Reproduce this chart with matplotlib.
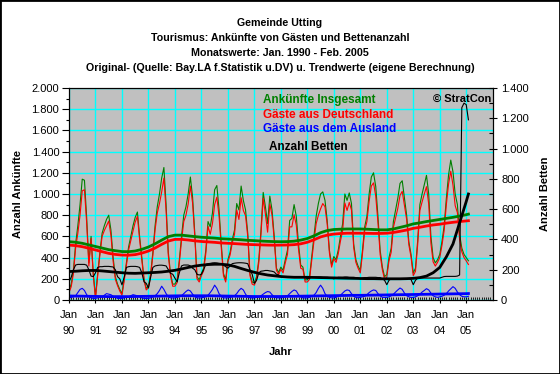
import numpy as np
import matplotlib
matplotlib.use('Agg')
import matplotlib.pyplot as plt
from matplotlib.ticker import MultipleLocator, FuncFormatter
from matplotlib.patches import Rectangle

plt.rcParams['font.family'] = ['Liberation Sans', 'DejaVu Sans']

# Monatswerte Jan 1990 - Feb 2005
ankuenfte_gesamt = [
    90, 150, 280, 530, 700, 900, 1140, 1130, 780, 350, 600, 250,
    30, 250, 450, 630, 700, 760, 800, 660, 400, 220, 150, 100,
    60, 200, 350, 500, 600, 700, 780, 830, 600, 400, 200, 110,
    130, 250, 450, 700, 880, 1000, 1150, 1250, 900, 450, 250, 150,
    150, 190, 380, 600, 800, 880, 1000, 1160, 970, 630, 220, 190,
    250, 300, 470, 740, 690, 820, 1040, 1080, 850, 530, 250, 190,
    380, 450, 570, 660, 910, 850, 1075, 940, 850, 630, 250, 170,
    160, 220, 380, 660, 1015, 880, 720, 980, 850, 600, 300, 260,
    310, 280, 380, 470, 750, 770, 900, 790, 530, 330, 310, 190,
    190, 220, 410, 600, 790, 910, 1000, 1020, 940, 750, 470, 330,
    410, 380, 470, 600, 720, 1000, 940, 1010, 910, 530, 380, 320,
    280, 470, 690, 790, 1000, 1160, 1200, 1070, 790, 470, 310, 220,
    240, 400, 490, 740, 850, 960, 1100, 1125, 960, 800, 550, 430,
    255, 300, 560, 900, 1000, 1090, 1176, 1000, 600, 400, 350, 380,
    430, 550, 700, 960, 1180, 1320, 1210, 1000, 900, 620, 490, 430,
    400, 370,
]
gaeste_deutschland = [
    70, 125, 250, 490, 630, 800, 1030, 1040, 730, 320, 580, 235,
    15, 230, 425, 600, 655, 700, 745, 610, 365, 195, 135, 85,
    45, 180, 325, 470, 560, 650, 735, 790, 570, 380, 185, 95,
    115, 230, 420, 660, 820, 910, 1020, 1150, 840, 420, 230, 130,
    130, 165, 350, 560, 740, 800, 905, 1075, 915, 600, 200, 170,
    230, 275, 440, 695, 620, 720, 900, 970, 790, 495, 230, 170,
    360, 425, 540, 620, 850, 760, 965, 845, 795, 600, 230, 150,
    140, 195, 350, 620, 960, 810, 640, 905, 800, 570, 280, 240,
    290, 255, 350, 430, 690, 690, 805, 705, 480, 300, 290, 170,
    170, 195, 375, 555, 720, 800, 860, 910, 880, 715, 445, 310,
    390, 355, 435, 555, 655, 915, 845, 920, 850, 495, 355, 300,
    255, 440, 655, 740, 930, 1075, 1105, 980, 730, 430, 285, 195,
    215, 370, 450, 685, 775, 865, 987, 1025, 895, 760, 520, 405,
    230, 270, 520, 845, 925, 1000, 1069, 905, 535, 360, 320, 355,
    400, 515, 655, 900, 1095, 1215, 1084, 890, 825, 570, 455, 400,
    370, 335,
]
gaeste_ausland = [
    20, 25, 30, 40, 70, 100, 110, 90, 50, 30, 20, 15,
    15, 20, 25, 30, 45, 60, 55, 50, 35, 25, 15, 15,
    15, 20, 25, 30, 40, 50, 45, 40, 30, 20, 15, 15,
    15, 20, 30, 40, 60, 90, 130, 100, 60, 30, 20, 20,
    20, 25, 30, 40, 60, 80, 95, 85, 55, 30, 20, 20,
    20, 25, 30, 45, 70, 100, 140, 110, 60, 35, 20, 20,
    20, 25, 30, 40, 60, 90, 110, 95, 55, 30, 20, 20,
    20, 25, 30, 40, 55, 70, 80, 75, 50, 30, 20, 20,
    20, 25, 30, 40, 60, 80, 95, 85, 50, 30, 20, 20,
    20, 25, 35, 45, 70, 110, 140, 110, 60, 35, 25, 20,
    20, 25, 35, 45, 65, 85, 95, 90, 60, 35, 25, 20,
    25, 30, 35, 50, 70, 85, 95, 90, 60, 40, 25, 25,
    25, 30, 40, 55, 75, 95, 113, 100, 65, 40, 30, 25,
    25, 30, 40, 55, 75, 90, 107, 95, 65, 40, 30, 25,
    30, 35, 45, 60, 85, 105, 126, 110, 75, 50, 35, 30,
    30, 35,
]
anzahl_betten = [
    121, 150, 200, 231, 235, 235, 235, 235, 230, 200, 158, 154,
    180, 215, 220, 220, 222, 222, 222, 220, 218, 200, 154, 140,
    100, 150, 215, 220, 222, 222, 222, 220, 215, 180, 120, 110,
    80, 150, 215, 225, 228, 230, 230, 228, 225, 200, 176, 170,
    144, 120, 180, 225, 231, 231, 231, 225, 210, 200, 170, 165,
    170, 200, 235, 240, 242, 245, 246, 245, 242, 240, 230, 220,
    210, 225, 240, 243, 245, 246, 246, 245, 243, 240, 200, 170,
    110, 130, 180, 190, 192, 195, 195, 192, 190, 185, 170, 165,
    154, 152, 150, 152, 152, 152, 152, 152, 150, 150, 150, 150,
    140, 145, 150, 150, 152, 152, 152, 150, 150, 150, 148, 145,
    140, 145, 150, 150, 150, 152, 152, 150, 150, 150, 148, 145,
    140, 145, 148, 148, 150, 150, 150, 150, 148, 148, 140, 130,
    101, 130, 141, 141, 141, 141, 141, 141, 141, 141, 141, 135,
    101, 130, 145, 145, 145, 145, 145, 145, 145, 145, 145, 145,
    145, 150, 155, 156, 156, 156, 156, 156, 158, 165, 1270, 1300,
    1290, 1190,
]

# Trendwerte (vierteljaehrlich, letzter Wert Feb 2005)
trend_months = list(range(0, 181, 3)) + [181]
trend_gesamt = [
    550, 545, 535, 520, 505, 490, 475, 465, 457, 456, 462, 478,
    500, 530, 565, 598, 612, 612, 605, 598, 592, 588, 584, 578,
    575, 572, 568, 563, 560, 556, 553, 551, 550, 551, 555, 565,
    580, 605, 635, 655, 665, 668, 670, 670, 670, 668, 665, 662,
    662, 670, 685, 700, 718, 728, 740, 750, 760, 770, 780, 792,
    805, 810,
]
trend_deutschland = [
    518, 513, 503, 488, 472, 456, 440, 430, 424, 423, 428, 442,
    462, 490, 525, 556, 572, 572, 566, 558, 552, 548, 544, 538,
    535, 532, 528, 524, 522, 520, 518, 517, 518, 519, 522, 530,
    545, 568, 595, 612, 622, 627, 630, 630, 630, 629, 628, 628,
    630, 637, 648, 660, 676, 686, 698, 708, 715, 725, 733, 740,
    746, 748,
]
trend_ausland = [
    38, 37, 36, 35, 34, 33, 32, 32, 32, 32, 33, 34,
    35, 36, 37, 38, 39, 40, 40, 40, 40, 40, 39, 38,
    37, 36, 35, 34, 33, 33, 33, 33, 33, 34, 35, 36,
    37, 38, 39, 40, 41, 42, 43, 44, 44, 45, 46, 47,
    48, 49, 50, 51, 52, 53, 54, 55, 56, 57, 58, 59,
    60, 61,
]
trend_betten = [
    188, 190, 193, 195, 195, 192, 188, 184, 180, 177, 176, 178,
    180, 182, 185, 190, 196, 205, 215, 224, 230, 234, 236, 236,
    232, 222, 208, 195, 183, 173, 165, 160, 155, 152, 150, 150,
    150, 149, 148, 147, 146, 145, 144, 143, 142, 141, 141, 140,
    140, 140, 140, 141, 143, 148, 158, 180, 215, 285, 370, 510,
    650, 700,
]

jahr_labels = ['90', '91', '92', '93', '94', '95', '96', '97', '98', '99',
               '00', '01', '02', '03', '04', '05']

GREEN = '#008000'
RED = '#FF0000'
BLUE = '#0000FF'
CYAN = '#00FFFF'

months = np.arange(len(ankuenfte_gesamt))

fig = plt.figure(figsize=(5.6, 3.74), dpi=100)
ax = fig.add_axes([69 / 560, 1 - 300 / 374, (492.7 - 69) / 560, 212 / 374])
ax.set_facecolor('#C0C0C0')

ax.plot(months, ankuenfte_gesamt, color=GREEN, lw=0.8, zorder=3)
ax.plot(months, gaeste_deutschland, color=RED, lw=0.8, zorder=3)
ax.plot(months, gaeste_ausland, color=BLUE, lw=0.8, zorder=3)
ax.plot(trend_months, trend_gesamt, color=GREEN, lw=2.0, zorder=4)
ax.plot(trend_months, trend_deutschland, color=RED, lw=2.0, zorder=4)
ax.plot(trend_months, trend_ausland, color=BLUE, lw=2.0, zorder=4)

ax.set_xlim(0, 192)
ax.set_ylim(0, 2000)
ax.xaxis.set_minor_locator(MultipleLocator(1))
ax.set_xticks(np.arange(0, 181, 12))
ax.set_xticklabels(['Jan\n' + j for j in jahr_labels], linespacing=1.7)
ax.yaxis.set_major_locator(MultipleLocator(200))
ax.yaxis.set_minor_locator(MultipleLocator(100))
thousands = FuncFormatter(lambda v, p: f'{int(v):,}'.replace(',', '.'))
ax.yaxis.set_major_formatter(thousands)
ax.grid(which='major', color=CYAN, linewidth=1.0)
ax.set_axisbelow(True)
ax.tick_params(axis='y', which='major', direction='out', length=5, width=0.8,
               labelsize=8, pad=2)
ax.tick_params(axis='y', which='minor', direction='out', length=2.5, width=0.8)
ax.tick_params(axis='x', which='major', direction='inout', length=5, width=0.8,
               labelsize=8, pad=5)
ax.tick_params(axis='x', which='minor', direction='in', length=2, width=0.6)
for s in ax.spines.values():
    s.set_linewidth(0.8)

ax2 = ax.twinx()
ax2.plot(months, anzahl_betten, color='black', lw=0.8, zorder=3)
ax2.plot(trend_months, trend_betten, color='black', lw=2.0, zorder=4)
ax2.set_ylim(0, 1400)
ax2.yaxis.set_major_locator(MultipleLocator(200))
ax2.yaxis.set_minor_locator(MultipleLocator(100))
ax2.yaxis.set_major_formatter(thousands)
ax2.tick_params(axis='y', which='major', direction='inout', length=6, width=0.8,
                labelsize=8, pad=3)
ax2.tick_params(axis='y', which='minor', direction='in', length=3, width=0.8)

ax.set_ylabel('Anzahl Ankünfte', fontsize=8, fontweight='bold', labelpad=6)
ax2.set_ylabel('Anzahl Betten', fontsize=8, fontweight='bold', labelpad=8)
ax.set_xlabel('Jahr', fontsize=8, fontweight='bold', labelpad=8)

titles = ['Gemeinde Utting',
          'Tourismus: Ankünfte von Gästen und Bettenanzahl',
          'Monatswerte: Jan. 1990 - Feb. 2005',
          'Original- (Quelle: Bay.LA f.Statistik u.DV) u. Trendwerte (eigene Berechnung)']
for i, t in enumerate(titles):
    fig.text(0.5, 1 - (22.7 + 15 * i) / 374, t, ha='center', va='center',
             fontsize=7.7, fontweight='bold')

legend_items = [('Ankünfte Insgesamt', GREEN, 263, 99.5),
                ('Gäste aus Deutschland', RED, 263, 114.5),
                ('Gäste aus dem Ausland', BLUE, 263, 129.5),
                ('Anzahl Betten', 'black', 269, 147.5)]
for txt, col, px, py in legend_items:
    fig.text(px / 560, 1 - py / 374, txt, color=col, ha='left', va='center',
             fontsize=8.5, fontweight='bold')
fig.text(433 / 560, 1 - 99.3 / 374, '© StratCon', color='black', ha='left',
         va='center', fontsize=8, fontweight='bold')

fig.patches.append(Rectangle((0, 0), 1, 1, transform=fig.transFigure,
                             fill=False, edgecolor='black', linewidth=2))

fig.savefig('out.png', dpi=100)
